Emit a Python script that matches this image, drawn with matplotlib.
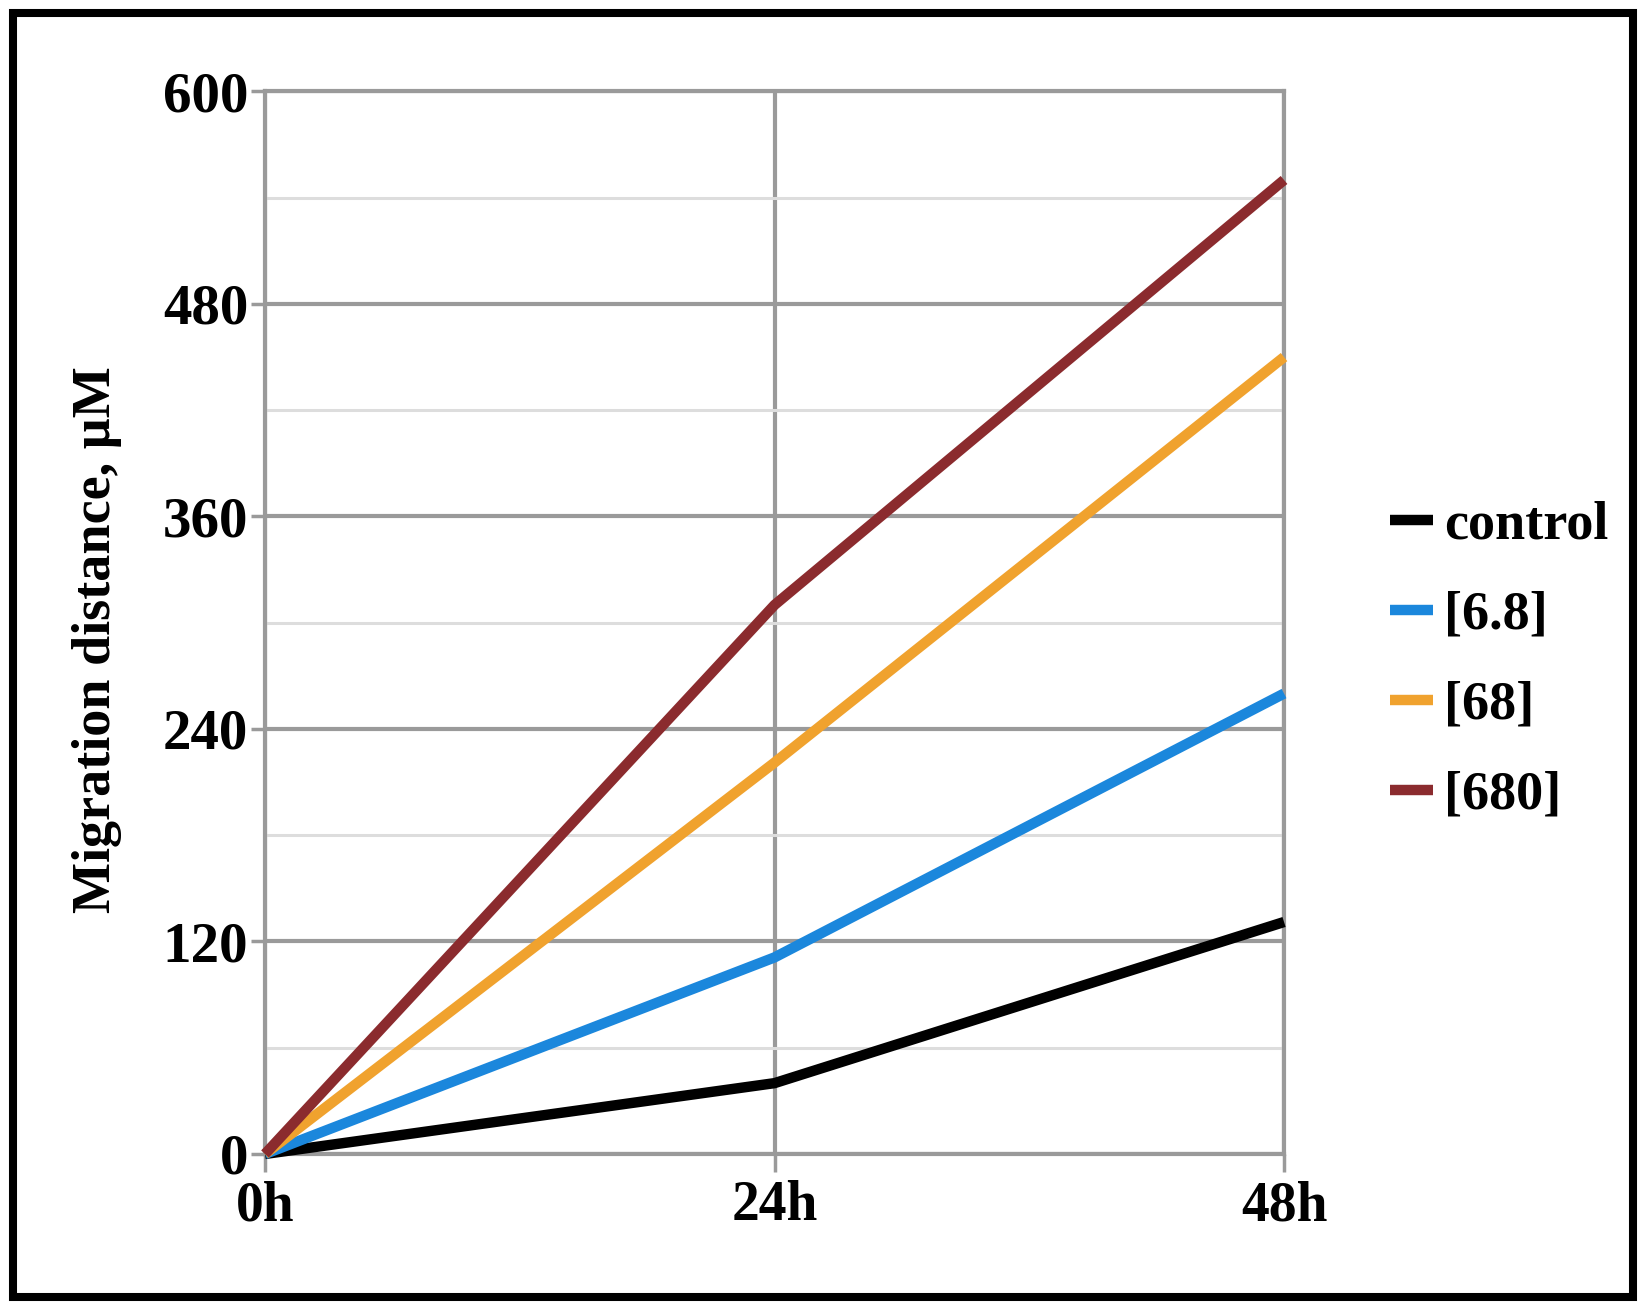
import numpy as np
import matplotlib.pyplot as plt
from matplotlib.patches import Rectangle
from matplotlib.ticker import MultipleLocator

hours = [0, 24, 48]
hour_labels = ['0h', '24h', '48h']
control = [0, 40, 131]
conc_6_8 = [0, 111, 260]
conc_68 = [0, 221, 450]
conc_680 = [0, 310, 550]
series_names = ['control', '[6.8]', '[68]', '[680]']
y_ticks = [0, 120, 240, 360, 480, 600]

plt.rcParams['font.family'] = ['Liberation Serif', 'DejaVu Serif']
plt.rcParams['font.weight'] = 'bold'

fig = plt.figure(figsize=(16.5, 13.06), dpi=100)
ax = fig.add_axes([0.1606, 0.1164, 0.6176, 0.8136])

colors = ['#000000', '#1b87dc', '#f0a22e', '#8b2b2e']
lines = []
for vals, c, name in zip([control, conc_6_8, conc_68, conc_680], colors, series_names):
    ln, = ax.plot(hours, vals, color=c, lw=7.5, solid_capstyle='butt',
                  clip_on=False, zorder=3, label=name)
    lines.append(ln)

ax.set_xlim(0, 48)
ax.set_ylim(0, 600)
ax.set_xticks(hours)
ax.set_xticklabels(hour_labels)
ax.set_yticks(y_ticks)
ax.yaxis.set_minor_locator(MultipleLocator(60))

ax.grid(which='major', axis='both', color='#9a9a9a', lw=3, zorder=1)
ax.grid(which='minor', axis='y', color='#dddddd', lw=2.2, zorder=0)
ax.set_axisbelow(True)
for s in ax.spines.values():
    s.set_color('#9a9a9a')
    s.set_linewidth(3)

ax.tick_params(axis='y', which='major', length=10, width=2.5, color='#9a9a9a',
               pad=2, labelsize=41)
ax.tick_params(axis='x', which='major', length=13, width=2.5, color='#9a9a9a',
               pad=6, labelsize=40)
ax.tick_params(which='minor', length=0)

fig.text(0.0588, 0.51, 'Migration distance, µM', rotation=90,
         ha='center', va='center', fontsize=39, fontweight='bold')

fig.legend(handles=lines, loc='center left', bbox_to_anchor=(0.8424, 0.494),
           bbox_transform=fig.transFigure, frameon=False, fontsize=39,
           handlelength=0.8, handletextpad=0.2, labelspacing=0.74,
           borderpad=0, borderaxespad=0)

fig.add_artist(Rectangle((0.0076, 0.0069), 0.9821, 0.9835, transform=fig.transFigure,
                         fill=False, edgecolor='black', lw=5.8))

fig.savefig('out.png', dpi=100)
